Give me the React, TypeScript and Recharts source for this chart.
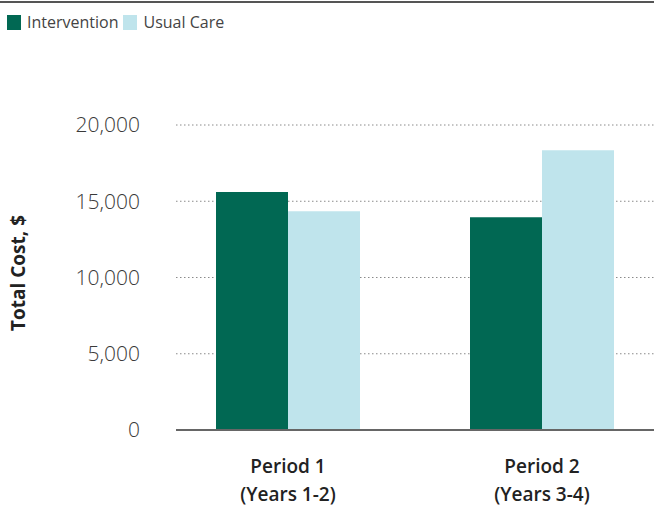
import React from 'react';
import { BarChart, Bar, XAxis, YAxis, CartesianGrid } from 'recharts';

const periods = ['Period 1', 'Period 2'];
const periodYears = ['(Years 1-2)', '(Years 3-4)'];
const intervention = [15600, 13950];
const usualCare = [14350, 18350];
const yTicks = [0, 5000, 10000, 15000, 20000];

const series = [
  { key: 'Intervention', values: intervention, color: '#016853' },
  { key: 'Usual Care', values: usualCare, color: '#bfe4ec' },
];

const FONT = '"Open Sans", "Noto Sans", sans-serif';

const data = periods.map((p, i) => {
  const row: Record<string, any> = { period: p, years: periodYears[i] };
  series.forEach((s) => {
    row[s.key] = s.values[i];
  });
  return row;
});

const PeriodTick = (props: any) => {
  const { x, y, payload, index } = props;
  return (
    <g>
      <text x={x} y={y + 35} textAnchor="middle" fontFamily={FONT} fontSize={19} fontWeight={600} fill="#222">
        {payload.value}
      </text>
      <text x={x} y={y + 63} textAnchor="middle" fontFamily={FONT} fontSize={19} fontWeight={600} fill="#222">
        {data[index] ? data[index].years : ''}
      </text>
    </g>
  );
};

const App: React.FC = () => {
  return (
    <div style={{ position: 'absolute', left: 0, top: 0, width: 654, height: 506, background: '#fff' }}>
      <div style={{ position: 'absolute', left: 0, top: 1, width: 654, height: 2, background: '#555' }} />
      <div
        style={{
          position: 'absolute',
          left: 7,
          top: 11,
          display: 'flex',
          alignItems: 'center',
          fontFamily: FONT,
          fontSize: 16,
          color: '#444',
        }}
      >
        {series.map((s) => (
          <div key={s.key} style={{ display: 'flex', alignItems: 'center', marginRight: 5 }}>
            <span style={{ display: 'inline-block', width: 14, height: 15, background: s.color, marginRight: 6 }} />
            <span>{s.key}</span>
          </div>
        ))}
      </div>
      <div style={{ position: 'absolute', left: 0, top: 0 }}>
        <BarChart
          width={654}
          height={506}
          data={data}
          margin={{ top: 125, right: 0, bottom: 0, left: 0 }}
          barGap={0}
          barSize={72}
        >
          <CartesianGrid vertical={false} stroke="#8a8a8a" strokeDasharray="1.5 2.5" />
          <XAxis
            dataKey="period"
            height={76}
            axisLine={{ stroke: '#666', strokeWidth: 2 }}
            tickLine={false}
            tick={<PeriodTick />}
            padding={{ left: -15, right: -15 }}
            interval={0}
          />
          <YAxis
            width={176}
            domain={[0, 20000]}
            ticks={yTicks}
            axisLine={false}
            tickLine={false}
            tickSize={0}
            tickMargin={36}
            tick={{ fontFamily: FONT, fontSize: 21, fontWeight: 300, fill: '#3a3a3a' }}
            tickFormatter={(v: number) => v.toLocaleString('en-US')}
            label={(props: any) => (
              <text
                transform="rotate(-90 18 273)"
                x={18}
                y={273}
                textAnchor="middle"
                dominantBaseline="central"
                fontFamily={FONT}
                fontSize={19}
                fontWeight={700}
                fill="#222"
              >
                Total Cost, $
              </text>
            )}
          />
          {series.map((s) => (
            <Bar key={s.key} dataKey={s.key} fill={s.color} isAnimationActive={false} />
          ))}
        </BarChart>
      </div>
    </div>
  );
};

export default App;
